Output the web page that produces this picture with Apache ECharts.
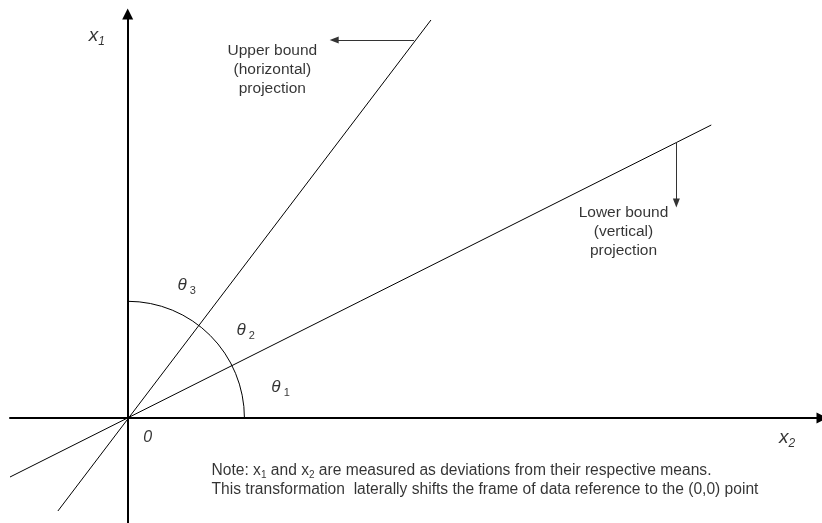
<!DOCTYPE html>
<html>
<head>
<meta charset="utf-8">
<script src="https://cdn.jsdelivr.net/npm/echarts@6/dist/echarts.min.js"></script>
<style>
  html, body {margin: 0; padding: 0; background: #fff;}
  #chart {width: 822px; height: 523px;}
</style>
</head>
<body>
<div id="chart"></div>
<script>
// 坐标以原点为中心 (x2 横向, x1 纵向)
const xRange = [-118, 696];
const yRange = [-105, 404];
const steepLine = [[-70, -93], [304, 398]];
const shallowLine = [[-118, -59], [585, 293]];
const arcRadius = 117;
const upperArrow = [[287, 378], [207, 378]];
const lowerArrow = [[550, 276], [550, 215]];

// 文字标注
const labelNames = ['x1', 'x2', 'origin', 'theta3', 'theta2', 'theta1', 'upper', 'lower', 'note'];
const labelPos = [[-39, 382], [653, -20], [20, -20], [50, 133], [109, 88], [144, 31], [145, 348], [497, 186], [84, -62]];
const labelText = [
  '{ax|x}{axs|1}',
  '{ax|x}{axs2|2}',
  '{o|0}',
  '{th|θ}{ths| 3}',
  '{th|θ}{ths| 2}',
  '{th|θ}{ths| 1}',
  'Upper bound\n(horizontal)\nprojection',
  'Lower bound\n(vertical)\nprojection',
  '{n|Note: x}{ns|1}{n| and x}{ns|2}{n| are measured as deviations from their respective means.}\n{n|This transformation  laterally shifts the frame of data reference to the (0,0) point}'
];
const labelAlign = ['left', 'left', 'center', 'left', 'left', 'left', 'center', 'center', 'left'];

const font = '"Liberation Sans", Arial, sans-serif';
const rich = {
  ax: {fontStyle: 'italic', fontSize: 19, lineHeight: 24, fontFamily: font, color: '#000'},
  axs: {fontStyle: 'italic', fontSize: 12, lineHeight: 16, verticalAlign: 'bottom', fontFamily: font, color: '#000'},
  axs2: {fontStyle: 'italic', fontSize: 12, lineHeight: 10, verticalAlign: 'bottom', fontFamily: font, color: '#000'},
  o: {fontStyle: 'italic', fontSize: 16, lineHeight: 20, fontFamily: font, color: '#000'},
  th: {fontStyle: 'italic', fontSize: 17, lineHeight: 22, fontFamily: font, color: '#000'},
  ths: {fontSize: 11, lineHeight: 12, verticalAlign: 'bottom', fontFamily: font, color: '#000'},
  n: {fontSize: 15.6, lineHeight: 19, fontFamily: font, color: '#000'},
  ns: {fontSize: 10, lineHeight: 11, verticalAlign: 'bottom', fontFamily: font, color: '#000'}
};

const myChart = echarts.init(document.getElementById('chart'));

const lineSeries = (data) => ({
  type: 'line',
  data: data,
  symbol: 'none',
  lineStyle: {color: '#000', width: 1},
  silent: true
});

const arrowSeries = (data) => ({
  type: 'line',
  data: [],
  markLine: {
    silent: true,
    symbol: ['none', 'triangle'],
    symbolSize: [7, 9],
    label: {show: false},
    lineStyle: {color: '#333', width: 1, type: 'solid'},
    data: [[{coord: data[0]}, {coord: data[1]}]]
  }
});

myChart.setOption({
  animation: false,
  backgroundColor: '#fff',
  grid: {left: 10, right: -2, top: 14, bottom: 0, containLabel: false},
  xAxis: {
    type: 'value',
    min: xRange[0],
    max: xRange[1],
    axisLine: {
      show: true,
      onZero: true,
      symbol: ['none', 'triangle'],
      symbolSize: [11, 11],
      lineStyle: {color: '#000', width: 2}
    },
    axisTick: {show: false},
    axisLabel: {show: false},
    splitLine: {show: false}
  },
  yAxis: {
    type: 'value',
    min: yRange[0],
    max: yRange[1],
    axisLine: {
      show: true,
      onZero: true,
      symbol: ['none', 'triangle'],
      symbolSize: [11, 11],
      lineStyle: {color: '#000', width: 2}
    },
    axisTick: {show: false},
    axisLabel: {show: false},
    splitLine: {show: false}
  },
  series: [
    lineSeries(steepLine),
    lineSeries(shallowLine),
    {
      type: 'custom',
      silent: true,
      data: [[0, 0, arcRadius]],
      renderItem(params, api) {
        const c = api.coord([api.value(0), api.value(1)]);
        const r = api.size([api.value(2), 0])[0];
        return {
          type: 'arc',
          shape: {cx: c[0], cy: c[1], r: r, startAngle: -Math.PI / 2, endAngle: 0, clockwise: true},
          style: {stroke: '#000', fill: 'none', lineWidth: 1}
        };
      }
    },
    arrowSeries(upperArrow),
    arrowSeries(lowerArrow),
    {
      type: 'scatter',
      symbolSize: 0,
      silent: true,
      data: labelNames.map((n, i) => ({
        name: n,
        value: labelPos[i],
        label: {
          show: true,
          position: 'inside',
          align: labelAlign[i],
          verticalAlign: 'middle',
          formatter: labelText[i],
          fontFamily: font,
          fontSize: 15.5,
          lineHeight: 19,
          color: '#000',
          rich: rich
        }
      }))
    }
  ]
});
</script>
</body>
</html>
